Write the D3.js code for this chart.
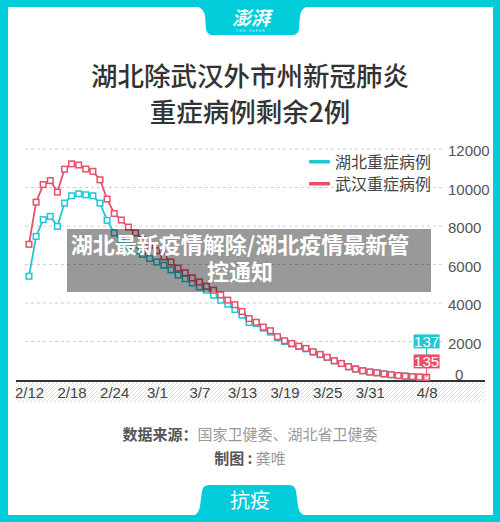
<!DOCTYPE html>
<html>
<head>
<meta charset="utf-8">
<script src="https://cdn.jsdelivr.net/npm/d3@7"></script>
<style>
  html, body { margin: 0; padding: 0; background: #fff; }
  svg { display: block; font-family: "Noto Sans CJK SC", "Noto Sans", sans-serif; }
</style>
</head>
<body>
<svg id="canvas" width="500" height="522"></svg>
<script>
// data
var dates = ['2/12','2/13','2/14','2/15','2/16','2/17','2/18','2/19','2/20','2/21','2/22','2/23','2/24','2/25','2/26','2/27','2/28','2/29',
             '3/1','3/2','3/3','3/4','3/5','3/6','3/7','3/8','3/9','3/10','3/11','3/12','3/13','3/14','3/15','3/16','3/17','3/18','3/19',
             '3/20','3/21','3/22','3/23','3/24','3/25','3/26','3/27','3/28','3/29','3/30','3/31','4/1','4/2','4/3','4/4','4/5','4/6','4/7','4/8']
var xTicks = ['2/12','2/18','2/24','3/1','3/7','3/13','3/19','3/25','3/31','4/8']
var yTicks = [0, 2000, 4000, 6000, 8000, 10000, 12000]
var hubei = [5390,7460,8330,8500,7980,9190,9570,9670,9620,9570,9190,8290,7640,7250,6950,6720,6530,6310,
             6130,5960,5720,5450,5260,5040,4834,4663,4404,4145,3938,3663,3368,2990,2930,2690,2490,2190,2000,
             1870,1740,1620,1450,1320,1170,995,855,688,570,482,417,378,318,278,234,204,178,153,137]
var wuhan = [7050,9240,10150,10360,9760,10950,11230,11170,10960,10840,10400,9400,8650,8310,7943,7640,7300,7000,
             6720,6400,6130,5810,5570,5300,5090,4870,4663,4420,4150,3910,3560,3190,3000,2750,2560,2250,2040,
             1900,1760,1640,1470,1330,1180,1000,860,690,570,480,415,375,315,275,230,200,175,150,135]
var seriesNames = ['湖北重症病例', '武汉重症病例']
var titleLines = ['湖北除武汉外市州新冠肺炎', '重症病例剩余2例']
var bannerLines = ['湖北最新疫情解除/湖北疫情最新管', '控通知']

var frameColor = '#00cdd9'
var cyan = '#22c7d5'
var red = '#e8506a'

var svg = d3.select('#canvas')

// frame
svg.append('rect').attr('width', 500).attr('height', 522).attr('fill', frameColor)
svg.append('rect').attr('x', 8).attr('y', 7).attr('width', 485).attr('height', 508).attr('fill', '#fff')

// top tab with logo
svg.append('path')
  .attr('d', 'M198,7 L306,7 Q301,9 300,16 L299,29 Q298,35 292,35 L213,35 Q207,35 206,29 L205,16 Q204,9 198,7 Z')
  .attr('fill', frameColor)
svg.append('text').attr('x', 251).attr('y', 25).attr('text-anchor', 'middle')
  .attr('fill', '#fff').attr('font-size', 19).attr('font-weight', 'bold').attr('font-style', 'italic')
  .text('澎湃')
svg.append('text').attr('x', 251).attr('y', 32).attr('text-anchor', 'middle')
  .attr('fill', '#fff').attr('font-size', 3.5).attr('font-family', 'DejaVu Sans').attr('letter-spacing', 1.2)
  .text('THE PAPER')

// bottom tab
svg.append('path')
  .attr('d', 'M193,516 Q199,514 200,506 L202,491 Q203,485 209,485 L289,485 Q295,485 296,491 L298,506 Q299,514 306,516 Z')
  .attr('fill', frameColor)
svg.append('text').attr('x', 250).attr('y', 508).attr('text-anchor', 'middle')
  .attr('fill', '#fff').attr('font-size', 20).text('抗疫')

// title
svg.selectAll('.title')
  .data(titleLines)
  .join('text')
  .attr('class', 'title')
  .attr('x', 250)
  .attr('y', (d, i) => 86 + i * 36)
  .attr('text-anchor', 'middle')
  .attr('fill', '#333')
  .attr('font-size', 26.5)
  .attr('font-weight', 500)
  .text(d => d)

// scales
var x = d3.scalePoint().domain(dates).range([29, 426.6])
var y = d3.scaleLinear().domain([0, 12000]).range([380, 149])

// hatch under axis
var defs = svg.append('defs')
var pat = defs.append('pattern').attr('id', 'hatch').attr('patternUnits', 'userSpaceOnUse')
  .attr('width', 4).attr('height', 4)
pat.append('path').attr('d', 'M-1,1 L1,-1 M0,4 L4,0 M3,5 L5,3').attr('stroke', '#d6d6d6').attr('stroke-width', 0.8)
svg.append('rect').attr('x', 16).attr('y', 382).attr('width', 469).attr('height', 20).attr('fill', 'url(#hatch)')

// grid
svg.append('g')
  .selectAll('line')
  .data(yTicks.filter(d => d > 0))
  .join('line')
  .attr('x1', 25).attr('x2', 443)
  .attr('y1', d => y(d)).attr('y2', d => y(d))
  .attr('stroke', '#cfcfcf').attr('stroke-width', 1).attr('stroke-dasharray', '3,3')

// y axis labels (right side)
var yAxis = d3.axisRight(y).tickValues(yTicks).tickSize(0).tickPadding(0).tickFormat(d3.format('d'))
var yg = svg.append('g').attr('transform', 'translate(448,2)').call(yAxis)
yg.select('.domain').remove()
yg.selectAll('text')
  .attr('font-size', 15).attr('fill', '#555').attr('font-family', 'Liberation Sans, Arial, sans-serif')
  .attr('x', d => d == 0 ? 7 : 0)
  .attr('dy', d => d == 0 ? '-0.2em' : '0.32em')

// x axis
var xAxis = d3.axisBottom(x).tickValues(xTicks).tickSize(0).tickPadding(0)
var xg = svg.append('g').attr('transform', 'translate(0,381)').call(xAxis)
xg.select('.domain').remove()
xg.selectAll('text')
  .attr('font-size', 15).attr('fill', '#444').attr('font-family', 'Liberation Sans, Arial, sans-serif')
  .attr('y', 0).attr('dy', '1.15em')
svg.append('line').attr('x1', 16).attr('x2', 485).attr('y1', 381).attr('y2', 381)
  .attr('stroke', '#333').attr('stroke-width', 2)

// lines
var series = [
  { name: seriesNames[0], values: hubei, color: cyan },
  { name: seriesNames[1], values: wuhan, color: red }
]
var line = d3.line().x((d, i) => x(dates[i])).y(d => y(d))

series.forEach(function (s) {
  var g = svg.append('g')
  g.append('path')
    .attr('d', line(s.values))
    .attr('fill', 'none')
    .attr('stroke', s.color)
    .attr('stroke-width', 1.8)
  g.selectAll('rect')
    .data(s.values)
    .join('rect')
    .attr('x', (d, i) => x(dates[i]) - 2.8)
    .attr('y', d => y(d) - 2.8)
    .attr('width', 5.6).attr('height', 5.6)
    .attr('fill', '#fff')
    .attr('stroke', s.color)
    .attr('stroke-width', 1.5)
})

// end labels
var last = dates[dates.length - 1]
var lx = x(last)
var ly = y(wuhan[wuhan.length - 1])
var endLabels = [
  { v: hubei[hubei.length - 1], color: cyan, off: 36 },
  { v: wuhan[wuhan.length - 1], color: red, off: 16 }
]
svg.append('line').attr('x1', lx).attr('x2', lx).attr('y1', ly - 36).attr('y2', ly)
  .attr('stroke', red).attr('stroke-width', 1)
svg.append('line').attr('x1', lx).attr('x2', lx).attr('y1', ly - 36).attr('y2', ly - 20)
  .attr('stroke', cyan).attr('stroke-width', 1)
endLabels.forEach(function (e) {
  svg.append('rect').attr('x', lx - 13).attr('y', ly - e.off - 7).attr('width', 26).attr('height', 14)
    .attr('fill', e.color)
  svg.append('text').attr('x', lx).attr('y', ly - e.off).attr('dy', '0.36em')
    .attr('text-anchor', 'middle').attr('fill', '#fff').attr('font-size', 15)
    .attr('font-family', 'Liberation Sans, Arial, sans-serif')
    .text(e.v)
})

// legend
var legend = svg.append('g').attr('transform', 'translate(309,162)')
legend.selectAll('g')
  .data(series)
  .join('g')
  .attr('transform', (d, i) => 'translate(0,' + i * 22 + ')')
  .call(g => g.append('rect').attr('x', 0).attr('y', -2).attr('width', 21).attr('height', 3.6)
    .attr('rx', 1).attr('fill', d => d.color))
  .call(g => g.append('text').attr('x', 26).attr('dy', '0.36em').attr('font-size', 16)
    .attr('fill', '#444').text(d => d.name))

// overlay banner
svg.append('rect').attr('x', 67).attr('y', 229).attr('width', 364).attr('height', 63)
  .attr('fill', 'rgba(0,0,0,0.4)')
svg.selectAll('.banner')
  .data(bannerLines)
  .join('text')
  .attr('class', 'banner')
  .attr('x', 240)
  .attr('y', (d, i) => 253 + i * 27)
  .attr('text-anchor', 'middle')
  .attr('fill', '#fff')
  .attr('font-size', 22)
  .attr('font-weight', 'bold')
  .text(d => d)

// source
var src = svg.append('text').attr('x', 250).attr('y', 440).attr('text-anchor', 'middle').attr('font-size', 15)
src.append('tspan').attr('fill', '#555').attr('font-weight', 'bold').text('数据来源：')
src.append('tspan').attr('fill', '#999').text('国家卫健委、湖北省卫健委')
var maker = svg.append('text').attr('x', 250).attr('y', 464).attr('text-anchor', 'middle').attr('font-size', 15)
maker.append('tspan').attr('fill', '#555').attr('font-weight', 'bold').text('制图 : ')
maker.append('tspan').attr('fill', '#999').text('龚唯')
</script>
</body>
</html>
